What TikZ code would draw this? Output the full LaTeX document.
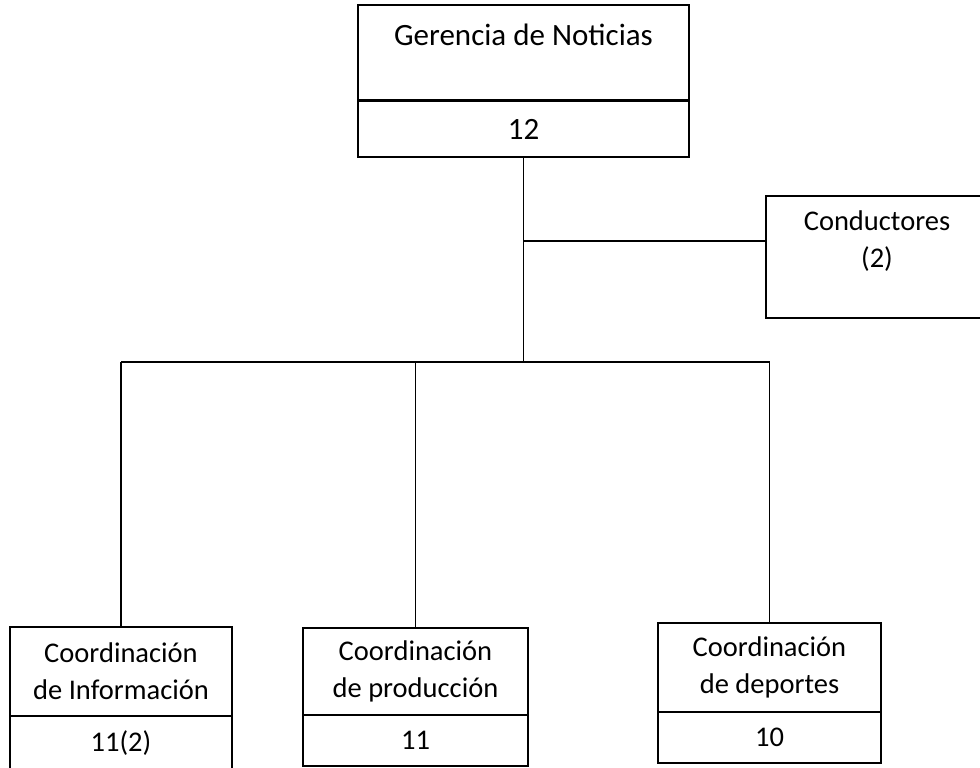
\documentclass[tikz,border=0pt]{standalone}
\usepackage{fontspec}
\setmainfont{Carlito}

\begin{document}
\begin{tikzpicture}
[-,line width=1.5pt,x=1pt,y=-1pt,%
  every node/.style={shape=rectangle,inner sep=0pt,align=center},%
  box/.style={draw,line width=1.5pt}]
\fontsize{28.5}{37}\selectfont
\useasboundingbox (0,0) rectangle (980,768);
% gerencia
\node[box,minimum width=331,minimum height=95] (ger) at (523.5,52.5) {};
\node (gerT) at ([yshift=17.5pt]ger.center) {\fontsize{31}{37}\selectfont Gerencia de Noticias};
\node[box,minimum width=331,minimum height=56] (gerN) at (523.5,129) {\fontsize{31}{37}\selectfont 12};
% conductores
\node[box,minimum width=222,minimum height=122] (cond) at (877,257) {};
\node (condT) at ([yshift=15.5pt]cond.center) {Conductores\\(2)};
% coordinaciones
\node[box,minimum width=222,minimum height=89] (info) at (121,671.5) {Coordinación\\de Información};
\node[box,minimum width=222,minimum height=54] (infoN) at (121,743) {11(2)};
\node[box,minimum width=225,minimum height=87] (prod) at (415.5,671.5) {Coordinación\\de producción};
\node[box,minimum width=225,minimum height=51] (prodN) at (415.5,740.5) {11};
\node[box,minimum width=223,minimum height=89] (dep) at (769.5,667.5) {Coordinación\\de deportes};
\node[box,minimum width=223,minimum height=51] (depN) at (769.5,737.5) {10};
% lineas
\coordinate (bus) at (0,362);
\coordinate (condIn) at ([yshift=16pt]cond.west);
\draw (gerN.south) -- (gerN.south |- bus);
\draw (condIn) -- (gerN.south |- condIn);
\draw (info.north |- bus) -- (dep.north |- bus);
\foreach \b in {info,prod,dep}
  \draw (\b.north) -- (\b.north |- bus);
\end{tikzpicture}
\end{document}
